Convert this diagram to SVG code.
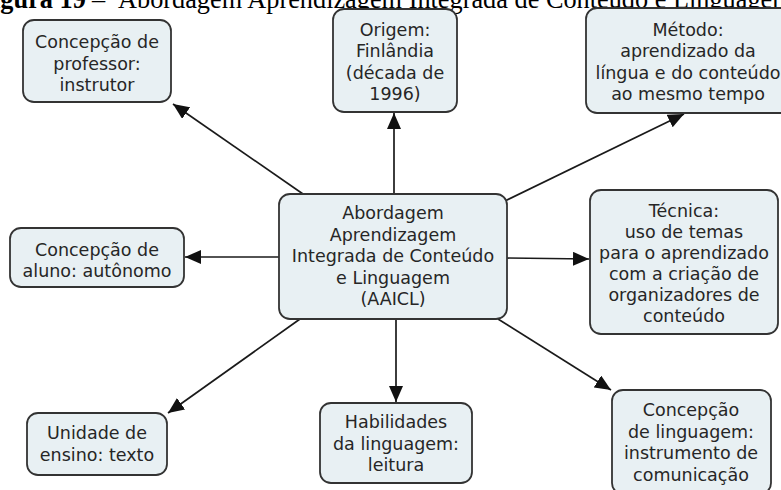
<svg xmlns="http://www.w3.org/2000/svg" width="781" height="490" viewBox="0 0 781 490">
  <defs>
    <marker id="arrow" markerWidth="16" markerHeight="14" refX="16" refY="7" orient="auto" markerUnits="userSpaceOnUse">
      <path d="M0,0 L16,7 L0,14 z" fill="#111"/>
    </marker>
    <style>
      .node rect { fill: #e8f0f3; stroke: #333; stroke-width: 1.8; }
      .node text { font-family: "DejaVu Sans", Verdana, sans-serif; font-size: 17.5px; fill: #262626; text-anchor: middle; }
      .edge { stroke: #1a1a1a; stroke-width: 1.7; fill: none; marker-end: url(#arrow); }
      .title { font-family: "Liberation Serif", "Times New Roman", serif; font-size: 26.3px; fill: #000; }
    </style>
  </defs>

  <rect width="781" height="490" fill="#fff"/>

  <!-- caption, cut at the top edge -->
  <text class="title" y="8"><tspan x="-23" font-weight="bold">Figura 19</tspan><tspan x="92">–</tspan><tspan x="118">Abordagem Aprendizagem Integrada de Conteúdo e Linguagem</tspan></text>

  <!-- connectors -->
  <g id="connectors">
    <line class="edge" x1="303" y1="194" x2="173" y2="104"/>
    <line class="edge" x1="394" y1="194" x2="394" y2="113"/>
    <line class="edge" x1="505" y1="201" x2="684" y2="114"/>
    <line class="edge" x1="279" y1="257" x2="185" y2="257"/>
    <line class="edge" x1="507" y1="258" x2="589" y2="259"/>
    <line class="edge" x1="300" y1="319" x2="168" y2="413"/>
    <line class="edge" x1="396" y1="319" x2="396" y2="402"/>
    <line class="edge" x1="498" y1="319" x2="611" y2="390"/>
  </g>

  <g id="node-central" class="node">
    <rect x="279" y="194" width="228" height="125" rx="11"/>
    <text x="393" y="219">Abordagem</text>
    <text x="393" y="240.5">Aprendizagem</text>
    <text x="393" y="262">Integrada de Conteúdo</text>
    <text x="393" y="283.5">e Linguagem</text>
    <text x="393" y="305">(AAICL)</text>
  </g>

  <g id="node-professor" class="node">
    <rect x="23" y="20" width="148" height="82" rx="11"/>
    <text x="97" y="48">Concepção de</text>
    <text x="97" y="69.5">professor:</text>
    <text x="97" y="91">instrutor</text>
  </g>

  <g id="node-origem" class="node">
    <rect x="333" y="9" width="124" height="103" rx="11"/>
    <text x="395" y="36">Origem:</text>
    <text x="395" y="57">Finlândia</text>
    <text x="395" y="78.5">(década de</text>
    <text x="395" y="100">1996)</text>
  </g>

  <g id="node-metodo" class="node">
    <rect x="586" y="8" width="206" height="105" rx="11"/>
    <text x="688" y="36">Método:</text>
    <text x="688" y="57">aprendizado da</text>
    <text x="688" y="78.5">língua e do conteúdo</text>
    <text x="688" y="100">ao mesmo tempo</text>
  </g>

  <g id="node-aluno" class="node">
    <rect x="10" y="228" width="174" height="59" rx="11"/>
    <text x="97" y="256">Concepção de</text>
    <text x="97" y="277">aluno: autônomo</text>
  </g>

  <g id="node-tecnica" class="node">
    <rect x="590" y="190" width="188" height="144" rx="11"/>
    <text x="684" y="217">Técnica:</text>
    <text x="684" y="238">uso de temas</text>
    <text x="684" y="259">para o aprendizado</text>
    <text x="684" y="280">com a criação de</text>
    <text x="684" y="301">organizadores de</text>
    <text x="684" y="322">conteúdo</text>
  </g>

  <g id="node-unidade" class="node">
    <rect x="27" y="413" width="140" height="62" rx="11"/>
    <text x="97" y="439">Unidade de</text>
    <text x="97" y="460.5">ensino: texto</text>
  </g>

  <g id="node-habilidades" class="node">
    <rect x="320" y="403" width="152" height="80" rx="11"/>
    <text x="396" y="428">Habilidades</text>
    <text x="396" y="449.5">da linguagem:</text>
    <text x="396" y="471">leitura</text>
  </g>

  <g id="node-linguagem" class="node">
    <rect x="612" y="390" width="159" height="104" rx="11"/>
    <text x="691" y="416">Concepção</text>
    <text x="691" y="437.5">de linguagem:</text>
    <text x="691" y="459">instrumento de</text>
    <text x="691" y="480.5">comunicação</text>
  </g>
</svg>
